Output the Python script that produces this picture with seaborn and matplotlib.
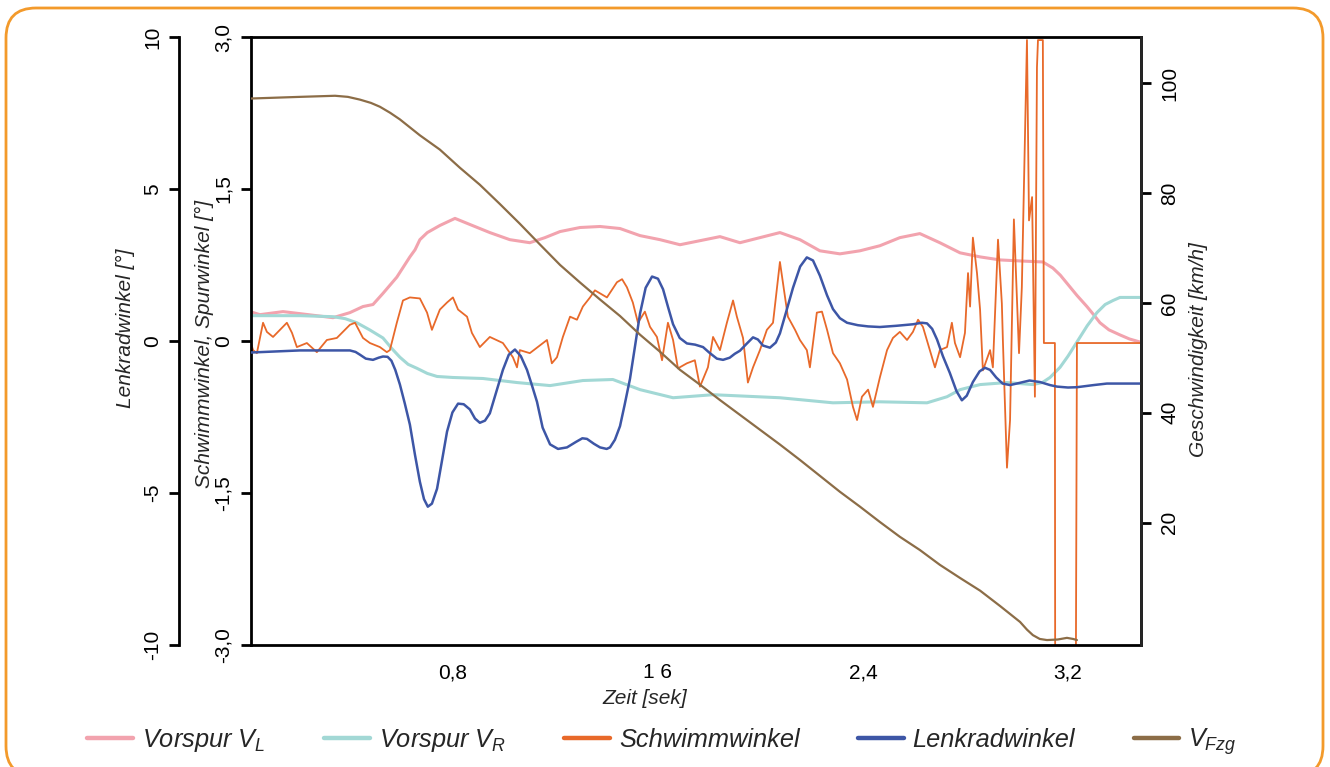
import numpy as np
import matplotlib
matplotlib.use("Agg")
import matplotlib.pyplot as plt
from matplotlib.lines import Line2D
from matplotlib.patches import FancyBboxPatch
import seaborn as sns

# ---------------- data ----------------
# Vorspur V_L  [deg]
t_vl = [0.008, 0.047, 0.137, 0.203, 0.332, 0.398, 0.449, 0.488, 0.527, 0.581, 0.632, 0.652,
        0.671, 0.700, 0.749, 0.808, 0.866, 0.944, 1.022, 1.100, 1.159, 1.218, 1.296, 1.374,
        1.452, 1.530, 1.608, 1.686, 1.764, 1.842, 1.920, 1.998, 2.076, 2.154, 2.232, 2.310,
        2.388, 2.466, 2.544, 2.622, 2.700, 2.779, 2.857, 2.935, 3.013, 3.102, 3.141, 3.170,
        3.196, 3.235, 3.274, 3.300, 3.325, 3.360, 3.403, 3.440, 3.481]
v_vl = [0.29, 0.26, 0.29, 0.27, 0.23, 0.28, 0.34, 0.36, 0.47, 0.63, 0.83, 0.90,
        1.00, 1.07, 1.14, 1.21, 1.15, 1.07, 1.00, 0.97, 1.02, 1.08, 1.12, 1.13,
        1.11, 1.04, 1.00, 0.95, 0.99, 1.03, 0.97, 1.02, 1.07, 1.00, 0.89, 0.86,
        0.89, 0.94, 1.02, 1.06, 0.97, 0.87, 0.83, 0.80, 0.79, 0.78, 0.72, 0.65,
        0.57, 0.45, 0.34, 0.26, 0.18, 0.11, 0.06, 0.02, -0.01]

# Vorspur V_R  [deg]
t_vr = [0.008, 0.203, 0.332, 0.380, 0.425, 0.475, 0.527, 0.560, 0.593, 0.625, 0.660, 0.700,
        0.738, 0.800, 0.917, 1.050, 1.179, 1.307, 1.424, 1.530, 1.659, 1.815, 2.076, 2.283,
        2.466, 2.650, 2.728, 2.779, 2.857, 2.962, 3.063, 3.100, 3.130, 3.169, 3.200, 3.235,
        3.275, 3.313, 3.345, 3.376, 3.403, 3.481]
v_vr = [0.25, 0.25, 0.24, 0.22, 0.18, 0.11, 0.03, -0.07, -0.16, -0.23, -0.27, -0.32,
        -0.35, -0.36, -0.37, -0.41, -0.44, -0.39, -0.38, -0.48, -0.56, -0.53, -0.56, -0.61,
        -0.60, -0.61, -0.55, -0.48, -0.43, -0.41, -0.43, -0.41, -0.36, -0.26, -0.15, -0.01,
        0.15, 0.28, 0.36, 0.40, 0.43, 0.43]

# Schwimmwinkel [deg]
t_sw = [0.008, 0.020, 0.035, 0.059, 0.074, 0.098, 0.125, 0.152, 0.172, 0.191, 0.230, 0.269,
        0.308, 0.347, 0.398, 0.418, 0.449, 0.476, 0.515, 0.542, 0.554, 0.581, 0.605, 0.632,
        0.671, 0.699, 0.718, 0.749, 0.777, 0.800, 0.820, 0.855, 0.874, 0.905, 0.944, 0.995,
        1.034, 1.050, 1.061, 1.100, 1.151, 1.167, 1.186, 1.206, 1.229, 1.257, 1.284, 1.307,
        1.335, 1.354, 1.374, 1.401, 1.440, 1.460, 1.479, 1.502, 1.522, 1.549, 1.569, 1.596,
        1.616, 1.639, 1.659, 1.678, 1.713, 1.744, 1.764, 1.795, 1.815, 1.842, 1.869, 1.893,
        1.908, 1.932, 1.951, 1.971, 1.998, 2.025, 2.049, 2.076, 2.088, 2.107, 2.135, 2.154,
        2.181, 2.193, 2.220, 2.240, 2.260, 2.283, 2.310, 2.338, 2.361, 2.377, 2.396, 2.420,
        2.439, 2.466, 2.494, 2.517, 2.544, 2.572, 2.595, 2.615, 2.634, 2.661, 2.681, 2.700,
        2.728, 2.747, 2.759, 2.779, 2.798, 2.810, 2.818, 2.829, 2.845, 2.857, 2.868, 2.896,
        2.907, 2.927, 2.942, 2.946, 2.962, 2.974, 2.989, 3.009, 3.020, 3.040, 3.048, 3.060,
        3.071, 3.079, 3.083, 3.102, 3.106, 3.149, 3.150, 3.231, 3.235, 3.481]
v_sw = [0.01, -0.09, -0.12, 0.18, 0.09, 0.04, 0.11, 0.18, 0.08, -0.06, -0.02, -0.11,
        0.01, 0.03, 0.16, 0.18, 0.03, -0.02, -0.06, -0.11, -0.09, 0.18, 0.40, 0.43,
        0.42, 0.28, 0.11, 0.31, 0.38, 0.43, 0.31, 0.24, 0.08, -0.06, 0.04, -0.02,
        -0.16, -0.26, -0.09, -0.12, -0.02, 0.01, -0.22, -0.16, 0.04, 0.24, 0.21, 0.34,
        0.43, 0.50, 0.47, 0.43, 0.58, 0.61, 0.53, 0.38, 0.18, 0.29, 0.14, 0.04,
        -0.19, 0.18, 0.01, -0.27, -0.22, -0.19, -0.45, -0.26, 0.04, -0.09, 0.18, 0.40,
        0.24, 0.03, -0.41, -0.26, -0.09, 0.11, 0.18, 0.78, 0.57, 0.24, 0.11, 0.01,
        -0.09, -0.26, 0.28, 0.29, 0.11, -0.12, -0.22, -0.38, -0.65, -0.78, -0.55, -0.48,
        -0.65, -0.36, -0.09, 0.03, 0.09, 0.01, 0.09, 0.21, 0.14, -0.09, -0.26, -0.09,
        -0.06, 0.18, -0.02, -0.16, 0.08, 0.67, 0.34, 1.02, 0.67, 0.31, -0.29, -0.09,
        -0.26, 1.00, 0.37, 0.01, -1.25, -0.78, 1.20, -0.12, 0.53, 2.97, 1.19, 1.42,
        -0.55, 2.70, 2.97, 2.97, -0.02, -0.02, -3.10, -3.10, -0.02, -0.02]

# Lenkradwinkel [deg]
t_lw = [0.008, 0.203, 0.398, 0.420, 0.437, 0.460, 0.488, 0.510, 0.527, 0.545, 0.560, 0.575,
        0.593, 0.612, 0.632, 0.652, 0.671, 0.687, 0.702, 0.718, 0.738, 0.757, 0.777, 0.798,
        0.820, 0.842, 0.866, 0.886, 0.905, 0.925, 0.944, 0.970, 0.995, 1.018, 1.042, 1.065,
        1.089, 1.108, 1.128, 1.150, 1.179, 1.210, 1.245, 1.280, 1.305, 1.323, 1.350, 1.374,
        1.400, 1.413, 1.432, 1.452, 1.470, 1.491, 1.510, 1.530, 1.552, 1.577, 1.600, 1.620,
        1.640, 1.659, 1.685, 1.713, 1.745, 1.776, 1.800, 1.830, 1.854, 1.880, 1.900, 1.920,
        1.945, 1.971, 1.990, 2.010, 2.037, 2.060, 2.076, 2.100, 2.127, 2.155, 2.181, 2.205,
        2.232, 2.260, 2.283, 2.310, 2.338, 2.380, 2.420, 2.466, 2.530, 2.595, 2.630, 2.650,
        2.670, 2.689, 2.712, 2.739, 2.765, 2.786, 2.805, 2.829, 2.855, 2.876, 2.896, 2.920,
        2.945, 2.974, 3.010, 3.050, 3.091, 3.130, 3.157, 3.200, 3.235, 3.300, 3.352, 3.481]
v_lw = [-0.38, -0.31, -0.31, -0.36, -0.45, -0.58, -0.62, -0.55, -0.51, -0.52, -0.65, -0.95,
        -1.43, -2.05, -2.75, -3.75, -4.63, -5.20, -5.45, -5.35, -4.86, -3.95, -2.98, -2.35,
        -2.06, -2.08, -2.25, -2.55, -2.69, -2.62, -2.38, -1.65, -0.95, -0.45, -0.28, -0.50,
        -0.95, -1.45, -2.00, -2.85, -3.40, -3.55, -3.50, -3.32, -3.20, -3.22, -3.38, -3.50,
        -3.55, -3.50, -3.25, -2.80, -2.10, -1.24, -0.20, 0.90, 1.75, 2.12, 2.05, 1.70,
        1.10, 0.55, 0.10, -0.08, -0.12, -0.20, -0.38, -0.58, -0.62, -0.55, -0.42, -0.32,
        -0.10, 0.12, 0.05, -0.15, -0.22, -0.05, 0.25, 0.95, 1.75, 2.45, 2.75, 2.65,
        2.15, 1.50, 1.05, 0.75, 0.60, 0.52, 0.48, 0.46, 0.50, 0.55, 0.60, 0.58,
        0.40, 0.05, -0.50, -1.05, -1.65, -1.95, -1.80, -1.35, -1.00, -0.88, -0.95, -1.20,
        -1.40, -1.45, -1.38, -1.30, -1.35, -1.45, -1.50, -1.53, -1.52, -1.45, -1.40, -1.40]

# Fahrzeuggeschwindigkeit [km/h]
t_v = [0.012, 0.203, 0.340, 0.390, 0.437, 0.480, 0.515, 0.555, 0.593, 0.671, 0.749, 0.827,
       0.905, 0.983, 1.061, 1.140, 1.218, 1.296, 1.374, 1.452, 1.530, 1.608, 1.686, 1.764,
       1.842, 1.920, 1.998, 2.076, 2.154, 2.232, 2.310, 2.388, 2.466, 2.544, 2.622, 2.700,
       2.779, 2.857, 2.935, 3.013, 3.040, 3.063, 3.090, 3.118, 3.160, 3.196, 3.220, 3.235]
v_v = [97.2, 97.5, 97.7, 97.5, 97.0, 96.4, 95.7, 94.6, 93.4, 90.5, 87.9, 84.6,
       81.5, 78.0, 74.4, 70.6, 66.9, 63.7, 60.6, 57.6, 54.2, 51.1, 47.8, 45.1,
       42.3, 39.6, 36.9, 34.2, 31.4, 28.5, 25.6, 22.9, 20.1, 17.4, 15.0, 12.3,
       9.9, 7.6, 4.8, 1.9, 0.5, -0.5, -1.2, -1.4, -1.3, -1.0, -1.2, -1.4]

x_ticks = [0.8, 1.6, 2.4, 3.2]
x_ticklabels = ["0,8", "1 6", "2,4", "3,2"]
ang_ticks = [-3.0, -1.5, 0.0, 1.5, 3.0]
ang_ticklabels = ["-3,0", "-1,5", "0", "1,5", "3,0"]
lw_ticks = [-10, -5, 0, 5, 10]
lw_ticklabels = ["-10", "-5", "0", "5", "10"]
v_ticks = [20, 40, 60, 80, 100]
v_ticklabels = ["20", "40", "60", "80", "100"]

labels = [r"Vorspur $V_{L}$", r"Vorspur $V_{R}$", "Schwimmwinkel", "Lenkradwinkel", r"$V_{Fzg}$"]

# ---------------- style ----------------
sns.set_theme(style="white")
plt.rcParams["font.family"] = ["Liberation Sans", "DejaVu Sans"]
plt.rcParams["mathtext.fontset"] = "custom"
plt.rcParams["mathtext.it"] = "Liberation Sans:italic"
plt.rcParams["mathtext.rm"] = "Liberation Sans"
plt.rcParams["mathtext.default"] = "it"

C_VL = "#F2A3AE"
C_VR = "#A2D8D5"
C_SW = "#E8692A"
C_LW = "#3D56A6"
C_V = "#8C6D47"
BORDER = "#F39A2B"

W, H = 1330, 767
fig = plt.figure(figsize=(W / 100, H / 100), dpi=100)

# rounded orange frame
bg = fig.add_axes([0, 0, 1, 1], zorder=-10)
bg.set_xlim(0, W)
bg.set_ylim(H, 0)
bg.axis("off")
bg.add_patch(FancyBboxPatch((6, 8), 1317, 768, boxstyle="round,pad=0,rounding_size=30",
                            ec=BORDER, fc="white", lw=2.0))

L, R, T, B = 251, 1141, 37, 645
rect = [L / W, 1 - B / H, (R - L) / W, (B - T) / H]
ax = fig.add_axes(rect)
ax.patch.set_alpha(0)
ax_lw = ax.twinx()
ax_v = ax.twinx()

SPW = 2.0
TICK_FS = 15
tick_kw = dict(direction="out", length=7, width=SPW, labelsize=TICK_FS, colors="black")

# main axes: Schwimmwinkel / Spurwinkel
sns.lineplot(x=t_vl, y=v_vl, ax=ax, color=C_VL, lw=2.2, estimator=None, sort=False)
sns.lineplot(x=t_vr, y=v_vr, ax=ax, color=C_VR, lw=2.2, estimator=None, sort=False)
sns.lineplot(x=t_sw, y=v_sw, ax=ax, color=C_SW, lw=1.3, estimator=None, sort=False)
ax.set_xlim(0.012, 3.485)
ax.set_ylim(-3.0, 3.0)
ax.set_xticks(x_ticks)
ax.set_xticklabels(x_ticklabels)
ax.set_yticks(ang_ticks)
ax.set_yticklabels(ang_ticklabels, rotation=90, va="center")
ax.tick_params(axis="both", pad=6, **tick_kw)
ax.set_xlabel("")
ax.set_ylabel("")
for s in ax.spines.values():
    s.set_linewidth(SPW)
    s.set_color("black")

# Lenkradwinkel axis (outer left)
sns.lineplot(x=t_lw, y=v_lw, ax=ax_lw, color=C_LW, lw=1.8, estimator=None, sort=False)
ax_lw.set_ylim(-10, 10)
ax_lw.yaxis.set_ticks_position("left")
ax_lw.yaxis.set_label_position("left")
ax_lw.spines["left"].set_position(("outward", 72 * 0.72))
for k in ["right", "top", "bottom"]:
    ax_lw.spines[k].set_visible(False)
ax_lw.spines["left"].set_linewidth(SPW)
ax_lw.spines["left"].set_color("black")
ax_lw.set_yticks(lw_ticks)
ax_lw.set_yticklabels(lw_ticklabels, rotation=90, va="center")
ax_lw.tick_params(axis="y", pad=5, **tick_kw)
ax_lw.set_ylabel("")

# speed axis (right)
sns.lineplot(x=t_v, y=v_v, ax=ax_v, color=C_V, lw=1.6, estimator=None, sort=False)
ax_v.set_ylim(-2.3, 108.4)
for k in ["left", "top", "bottom"]:
    ax_v.spines[k].set_visible(False)
ax_v.spines["right"].set_linewidth(SPW)
ax_v.set_yticks(v_ticks)
ax_v.set_yticklabels(v_ticklabels, rotation=90, va="center")
ax_v.tick_params(axis="y", pad=7, **tick_kw)
ax_v.set_ylabel("")
ax_v.set_xlim(0.012, 3.485)
ax_lw.set_xlim(0.012, 3.485)

# axis titles
LAB_FS = 15
lab_kw = dict(fontsize=LAB_FS, style="italic", rotation=90, ha="center", va="center")
fig.text(125 / W, 1 - 328 / H, "Lenkradwinkel [°]", **lab_kw)
fig.text(204 / W, 1 - 344 / H, "Schwimmwinkel, Spurwinkel [°]", **lab_kw)
fig.text(1198 / W, 1 - 350 / H, "Geschwindigkeit [km/h]", **lab_kw)
fig.text(645 / W, 1 - 698 / H, "Zeit [sek]", fontsize=LAB_FS, style="italic",
         ha="center", va="center")

# legend
handles = [Line2D([], [], color=c, lw=3.2, solid_capstyle="round")
           for c in [C_VL, C_VR, C_SW, C_LW, C_V]]
fig.legend(handles, labels, loc="center", bbox_to_anchor=(662 / W, 1 - 742 / H), ncol=5,
           frameon=False, handlelength=1.8, handletextpad=0.35, columnspacing=2.3,
           prop={"size": 18.3, "style": "italic", "family": "Liberation Sans"})

fig.savefig("out.png", dpi=100)
